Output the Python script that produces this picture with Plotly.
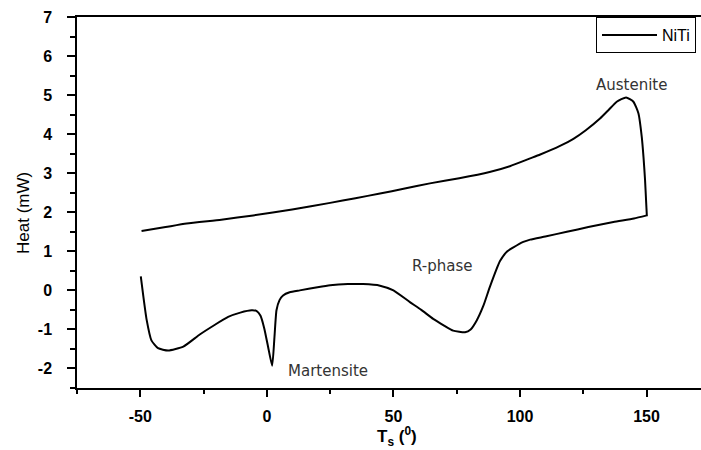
import plotly.graph_objects as go

# Heating branch (lower curve), left to right
lower_x = [-49.8, -48.8, -47.5, -45.6, -43.0, -39.0, -33.0, -26.5, -20.5, -15.3, -10.5, -6.0, -4.0,
           -2.5, -1.0, 0.5, 2.1, 3.0, 3.8, 5.0, 6.4, 9.0, 13.0, 20.0, 25.0, 32.0, 38.0, 44.7,
           50.0, 56.5, 61.0, 65.7, 70.0, 73.6, 78.3, 80.5, 82.9, 85.5, 88.1, 92.1, 95.0, 97.4,
           101.3, 104.0, 110.0, 118.5, 127.0, 136.9, 145.0, 150.1]
lower_y = [0.36, -0.15, -0.75, -1.28, -1.48, -1.54, -1.44, -1.13, -0.88, -0.68, -0.57, -0.51, -0.53,
           -0.65, -0.98, -1.45, -1.93, -1.20, -0.51, -0.25, -0.13, -0.05, 0.00, 0.08, 0.13, 0.16,
           0.16, 0.12, 0.00, -0.30, -0.50, -0.73, -0.90, -1.03, -1.07, -1.00, -0.77, -0.40, 0.09,
           0.75, 1.00, 1.10, 1.24, 1.30, 1.38, 1.50, 1.62, 1.75, 1.84, 1.92]

# Return branch (upper curve), right to left
upper_x = [150.1, 149.8, 149.4, 148.8, 148.1, 146.8, 144.8, 141.9, 138.2, 135.0, 131.6, 126.0,
           121.1, 115.8, 108.0, 104.0, 96.0, 88.0, 76.0, 64.4, 54.0, 44.7, 35.0, 25.0, 10.0,
           -5.4, -18.0, -31.7, -40.0, -49.5]
upper_y = [1.92, 2.30, 2.82, 3.40, 3.93, 4.53, 4.83, 4.94, 4.83, 4.62, 4.40, 4.10,
           3.88, 3.70, 3.48, 3.38, 3.18, 3.03, 2.87, 2.74, 2.60, 2.48, 2.36, 2.24, 2.07,
           1.92, 1.81, 1.71, 1.62, 1.52]

series_name = "NiTi"
labels = ["Austenite", "R-phase", "Martensite"]
x_ticks = [-50, 0, 50, 100, 150]
y_ticks = [-2, -1, 0, 1, 2, 3, 4, 5, 6, 7]

x_all = lower_x + upper_x
y_all = lower_y + upper_y

fig = go.Figure()
fig.add_trace(go.Scatter(x=x_all, y=y_all, mode="lines", name=series_name,
                         line=dict(color="black", width=2, shape="spline", smoothing=0.5),
                         showlegend=True))

W, H = 701, 450
L, R, T, B = 77, 0, 17, 62
pw, ph = W - L - R, H - T - B

def px_to_paper(px, py):
    return (px - L) / pw, (H - B - py) / ph

ann_font = dict(family="DejaVu Sans, Arial", size=15, color="#333333")
ann_pos = {"Austenite": (631, 85), "R-phase": (442, 266), "Martensite": (328, 371)}
annotations = []
for t in labels:
    ax_, ay_ = px_to_paper(*ann_pos[t])
    annotations.append(dict(text=t, x=ax_, y=ay_, xref="paper", yref="paper",
                            showarrow=False, font=ann_font, xanchor="center", yanchor="middle"))

tx, ty = px_to_paper(397, 436)
annotations.append(dict(text="<b>T<sub>s</sub> (<sup>0</sup>)</b>", x=tx, y=ty, xref="paper", yref="paper",
                        showarrow=False, font=dict(family="Arial, Liberation Sans", size=17, color="black"),
                        xanchor="center", yanchor="middle"))
hx, hy = px_to_paper(23, 213)
annotations.append(dict(text="Heat (mW)", x=hx, y=hy, xref="paper", yref="paper", textangle=-90,
                        showarrow=False, font=dict(family="Arial, Liberation Sans", size=17, color="black"),
                        xanchor="center", yanchor="middle"))

tick_font = dict(family="Arial, Liberation Sans", size=16, color="black", weight="bold")

fig.update_layout(
    width=W, height=H,
    margin=dict(l=L, r=R, t=T, b=B, pad=0),
    paper_bgcolor="white", plot_bgcolor="white",
    showlegend=True,
    legend=dict(x=(596 - L) / pw, y=1, xanchor="left", yanchor="top",
                bordercolor="black", borderwidth=1, bgcolor="white",
                font=dict(family="Arial, Liberation Sans", size=16, color="black"),
                itemwidth=55, tracegroupgap=0),
    annotations=annotations,
    xaxis=dict(range=[-75, 171.5], tickvals=x_ticks, ticktext=[str(v) for v in x_ticks],
               ticks="outside", ticklen=7,
               tickwidth=1.5, tickcolor="black", showline=True, linecolor="black", linewidth=1.5,
               mirror=True, showgrid=False, zeroline=False, tickfont=tick_font,
               ticklabelstandoff=6,
               minor=dict(ticks="outside", ticklen=4, dtick=25, tick0=-75, tickcolor="black", showgrid=False)),
    yaxis=dict(range=[-2.5, 7], tickvals=y_ticks, ticktext=[str(v) for v in y_ticks],
               ticks="outside", ticklen=8,
               tickwidth=1.5, tickcolor="black", showline=True, linecolor="black", linewidth=1.5,
               showgrid=False, zeroline=False, tickfont=tick_font, ticklabelstandoff=12,
               minor=dict(ticks="outside", ticklen=5, dtick=0.5, tick0=-2.5, tickcolor="black", showgrid=False)),
)

fig.write_html("out.html")
